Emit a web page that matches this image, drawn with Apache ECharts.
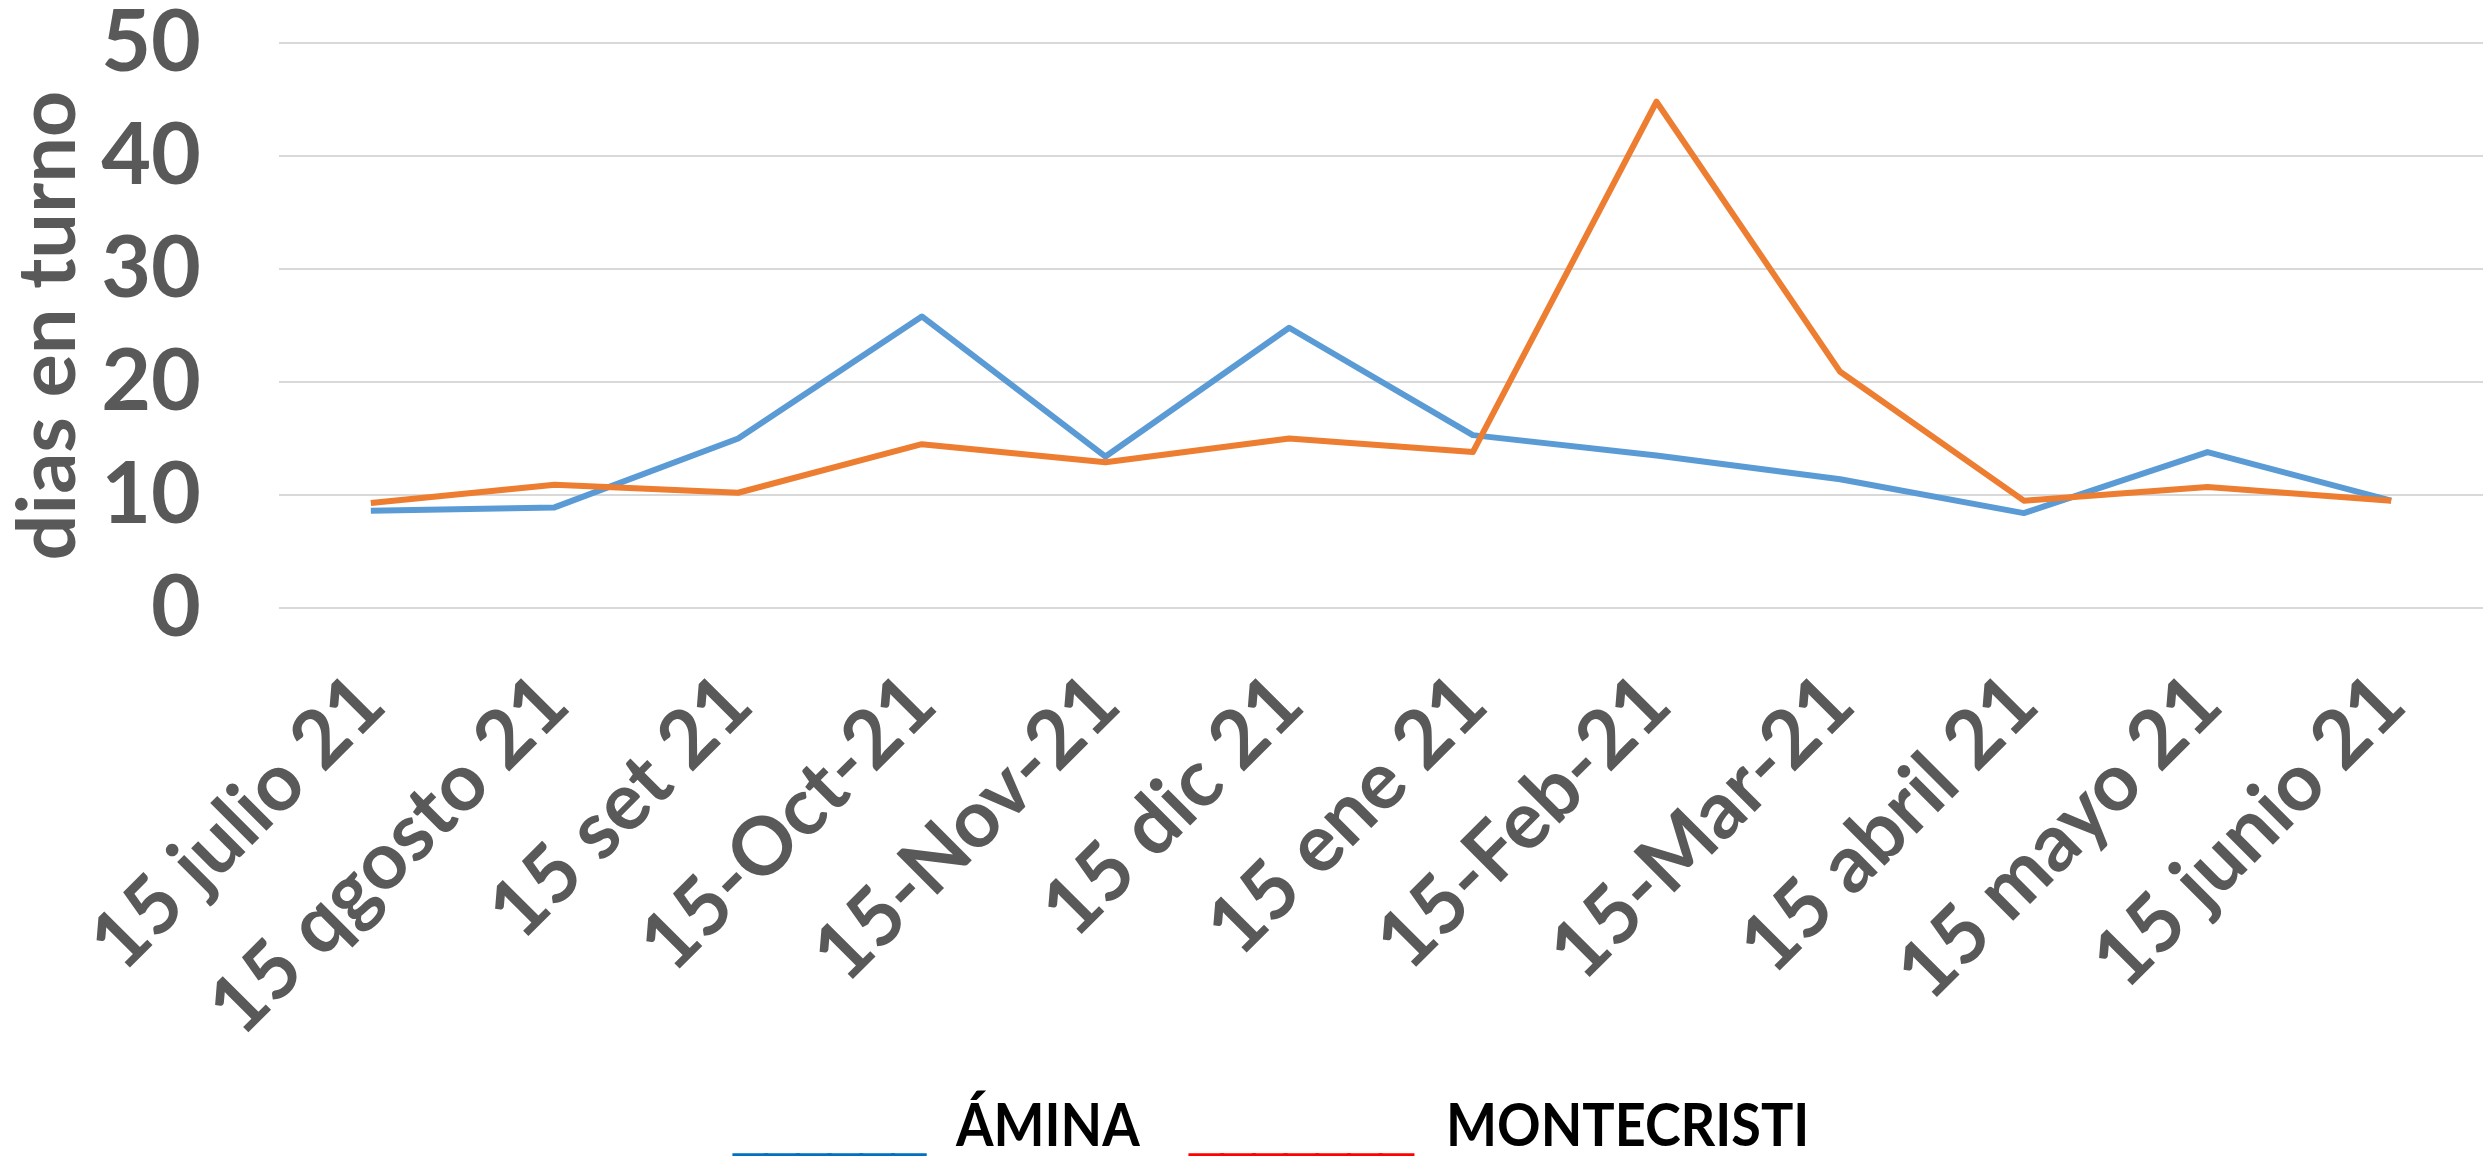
<!DOCTYPE html>
<html>
<head>
<meta charset="utf-8">
<script src="https://cdn.jsdelivr.net/npm/echarts@6/dist/echarts.min.js"></script>
<style>
  html, body { margin: 0; padding: 0; background: #ffffff; }
  #chart { width: 2483px; height: 1156px; }
</style>
</head>
<body>
<div id="chart"></div>
<script>
// Monthly waiting days per site
const categories = ['15 julio 21', '15 qgosto 21', '15 set 21', '15-Oct-21', '15-Nov-21', '15 dic 21',
                    '15 ene 21', '15-Feb-21', '15-Mar-21', '15 abril 21', '15 mayo 21', '15 junio 21'];
const amina = [8.6, 8.9, 15.0, 25.8, 13.4, 24.8, 15.3, 13.5, 11.4, 8.4, 13.8, 9.5];
const montecristi = [9.3, 10.9, 10.2, 14.5, 12.9, 15.0, 13.8, 44.8, 20.9, 9.5, 10.7, 9.5];
const yTicks = { min: 0, max: 50, interval: 10 };
const yName = 'dias en turno';
const legendNames = ['ÁMINA', 'MONTECRISTI'];

const FONT = 'Lato, "Open Sans", "Liberation Sans", sans-serif';
const RULE_FONT = 'bold 57px "Liberation Sans", Arial, sans-serif';
const GREY = '#595959';

const chart = echarts.init(document.getElementById('chart'), null, { renderer: 'canvas' });

// hand-drawn key under the plot: coloured underscores followed by the site name
const keyRule = (left, text, color) => ({
  type: 'text', left: left, top: 1104,
  style: { text: text, fill: color, stroke: color, lineWidth: 3, font: RULE_FONT }
});
const keyName = (left, text) => ({
  type: 'text', left: left, top: 1097, scaleX: 0.9,
  style: { text: text, fill: '#000000', font: 'bold 60px ' + FONT }
});

chart.setOption({
  backgroundColor: '#ffffff',
  animation: false,
  grid: { left: 269, right: 0, top: 40, bottom: 548, containLabel: false },
  xAxis: {
    type: 'category',
    data: categories,
    boundaryGap: true,
    axisLine: { show: false },
    axisTick: { show: false },
    axisLabel: {
      rotate: 45,
      margin: 82,
      color: GREY,
      fontFamily: FONT,
      fontWeight: 'bold',
      fontSize: 80,
      interval: 0
    }
  },
  yAxis: {
    type: 'value',
    min: yTicks.min,
    max: yTicks.max,
    interval: yTicks.interval,
    name: yName,
    nameLocation: 'middle',
    nameGap: 190,
    nameTextStyle: { color: GREY, fontFamily: FONT, fontWeight: 'bold', fontSize: 81 },
    axisLine: { show: false },
    axisTick: { show: false },
    axisLabel: { color: GREY, fontFamily: FONT, fontWeight: 'bold', fontSize: 86, margin: 78 },
    splitLine: { lineStyle: { color: '#D9D9D9', width: 2 } }
  },
  series: [
    {
      name: legendNames[0],
      type: 'line',
      data: amina,
      symbol: 'none',
      lineStyle: { color: '#5B9BD5', width: 6, join: 'round' },
      z: 3
    },
    {
      name: legendNames[1],
      type: 'line',
      data: montecristi,
      symbol: 'none',
      lineStyle: { color: '#ED7D31', width: 6, join: 'round' },
      z: 4
    }
  ],
  graphic: [
    keyRule(733, '______', '#0070C0'),
    keyName(956, legendNames[0]),
    keyRule(1189, '_______', '#FF0000'),
    keyName(1446, legendNames[1])
  ]
});
</script>
</body>
</html>
